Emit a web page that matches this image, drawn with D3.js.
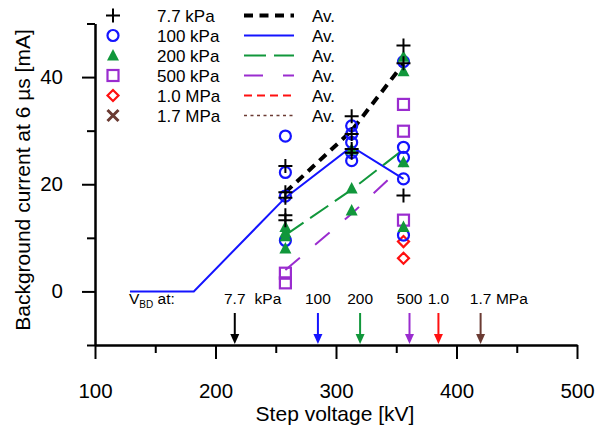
<!DOCTYPE html>
<html>
<head>
<meta charset="utf-8">
<script src="https://cdn.jsdelivr.net/npm/d3@7"></script>
<style>
body { margin: 0; background: #fff; }
text { font-family: "Liberation Sans", Arial, sans-serif; fill: #000; }
</style>
</head>
<body>
<div id="chart"></div>
<script>
// measurement voltages (kV) of the three point columns
var voltages = [258, 313, 356];

var series = ["7.7 kPa", "100 kPa", "200 kPa", "500 kPa", "1.0 MPa", "1.7 MPa"];
var colours = ["#000000", "#1414ff", "#11973b", "#9a2ccf", "#ff1010", "#6b3b33"];
var shapes = ["plus", "circle", "triangle", "square", "diamond", "cross"];

// background current [mA], one list per voltage column
var pts77 = [[23.4, 18.5, 17.5, 14.2, 13.3], [32.7, 29.4, 26.6, 25.9], [45.9, 42.6, 17.9]];
var pts100 = [[29, 22.2, 17.8, 9.5], [30.9, 29.4, 27.8, 25.9, 24.4], [42.9, 26.9, 25, 21, 10.5]];
var pts200 = [[12, 11, 10.3, 8], [26.5, 19.2, 15.1], [43.8, 41.1, 24.1, 12]];
var pts500 = [[3.4, 1.6], [], [34.9, 29.9, 13.3]];
var pts1000 = [[], [], [9.3, 6.2]];
var pts1700 = [[], [], []];

// averages
var avg77 = [18.5, 30, 42.5];
var avg100Volts = [129, 182, 258, 313, 356];
var avg100 = [0, 0, 17.5, 27, 21];
var avg200 = [10.5, 19, 26.5];
var avg500 = [4, 14.5, 23.5];

// breakdown voltages
var vbdVolts = [216, 285, 320, 361, 385, 420];
var vbdLabels = ["7.7", "100", "200", "500", "1.0", "1.7"];
var vbdUnits = ["kPa", "", "", "", "", "MPa"];

var xTicks = [100, 200, 300, 400, 500];
var xMinor = [150, 250, 350, 450];
var yTicks = [0, 20, 40];
var yMinor = [-10, 10, 30, 50];

var dashes = ["9,6.5", null, "22,8", "19,20", "8,5", "3,3.5"];
var widths = [4, 2, 2, 2, 2, 1.5];

var svg = d3.select("#chart").append("svg")
    .attr("width", 595).attr("height", 430);

var x = d3.scaleLinear().domain([100, 500]).range([95, 577]);
var y = d3.scaleLinear().domain([-10, 50]).range([345, 23.5]);

// axes
var gx = svg.append("g").attr("transform", "translate(0," + y(-10) + ")")
    .call(d3.axisBottom(x).tickValues(xTicks).tickSize(14).tickSizeOuter(0).tickPadding(24));
svg.append("g").attr("transform", "translate(0," + y(-10) + ")")
    .call(d3.axisBottom(x).tickValues(xMinor).tickSize(8).tickSizeOuter(0).tickFormat(""));
var gy = svg.append("g").attr("transform", "translate(" + x(100) + ",0)")
    .call(d3.axisLeft(y).tickValues(yTicks).tickSize(13).tickSizeOuter(0).tickPadding(19));
svg.append("g").attr("transform", "translate(" + x(100) + ",0)")
    .call(d3.axisLeft(y).tickValues(yMinor).tickSize(8).tickSizeOuter(0).tickFormat(""));
svg.selectAll(".domain, .tick line").attr("stroke", "#000").attr("stroke-width", 2);
svg.selectAll(".tick text").style("font-size", "20.5px").attr("fill", "#000")
    .style("font-family", "'Liberation Sans', Arial, sans-serif");

svg.append("text").attr("x", 335).attr("y", 421).attr("text-anchor", "middle")
    .style("font-size", "21px").text("Step voltage [kV]");
svg.append("text").attr("transform", "translate(30,180) rotate(-90)").attr("text-anchor", "middle")
    .style("font-size", "21px").text("Background current at 6 \u00b5s [mA]");

// average lines
var line = d3.line().x(function(d) { return x(d[0]); }).y(function(d) { return y(d[1]); });
var avgs = [
  d3.zip(voltages, avg77),
  d3.zip(avg100Volts, avg100),
  d3.zip(voltages, avg200),
  d3.zip(voltages, avg500)
];
avgs.forEach(function(a, i) {
  svg.append("path").datum(a).attr("d", line)
    .attr("fill", "none").attr("stroke", colours[i])
    .attr("stroke-width", widths[i]).attr("stroke-dasharray", dashes[i]);
});

// marker drawing
function marker(g, shape, colour) {
  if (shape == "plus") {
    g.append("path").attr("d", "M-7,0H7M0,-7V7").attr("stroke", colour).attr("stroke-width", 2);
  } else if (shape == "circle") {
    g.append("circle").attr("r", 5.5).attr("fill", "none").attr("stroke", colour).attr("stroke-width", 2.2);
  } else if (shape == "triangle") {
    g.append("path").attr("d", "M0,-6.5L6,5L-6,5Z").attr("fill", colour);
  } else if (shape == "square") {
    g.append("rect").attr("x", -5.5).attr("y", -5.5).attr("width", 11).attr("height", 11)
      .attr("fill", "none").attr("stroke", colour).attr("stroke-width", 2.2);
  } else if (shape == "diamond") {
    g.append("path").attr("d", "M0,-5.5L5.5,0L0,5.5L-5.5,0Z")
      .attr("fill", "none").attr("stroke", colour).attr("stroke-width", 2.2);
  } else {
    g.append("path").attr("d", "M-5.5,-5.5L5.5,5.5M-5.5,5.5L5.5,-5.5").attr("stroke", colour).attr("stroke-width", 3);
  }
}

var allPts = [pts77, pts100, pts200, pts500, pts1000, pts1700];
// drawing order so crosses end up on top
[4, 3, 1, 2, 0, 5].forEach(function(si) {
  allPts[si].forEach(function(col, ci) {
    col.forEach(function(v) {
      var g = svg.append("g").attr("transform", "translate(" + x(voltages[ci]) + "," + y(v) + ")");
      marker(g, shapes[si], colours[si]);
    });
  });
});

// legend
series.forEach(function(s, i) {
  var ly = 15.5 + i * 20;
  marker(svg.append("g").attr("transform", "translate(113," + ly + ")"), shapes[i], colours[i]);
  svg.append("text").attr("x", 157).attr("y", ly + 6).style("font-size", "17px").text(s);
  svg.append("line").attr("x1", 244).attr("x2", 294).attr("y1", ly).attr("y2", ly)
    .attr("stroke", colours[i]).attr("stroke-width", widths[i]).attr("stroke-dasharray", dashes[i]);
  svg.append("text").attr("x", 312).attr("y", ly + 6).style("font-size", "17px").text("Av.");
});

// breakdown voltage arrows
var vb = svg.append("text").attr("x", 129).attr("y", 304).style("font-size", "15.5px");
vb.append("tspan").text("V");
vb.append("tspan").attr("dy", 4).style("font-size", "10px").text("BD");
vb.append("tspan").attr("dy", -4).text(" at:");

vbdVolts.forEach(function(v, i) {
  var ax = x(v), c = colours[i];
  svg.append("line").attr("x1", ax).attr("x2", ax).attr("y1", 313).attr("y2", y(-10) - 8)
    .attr("stroke", c).attr("stroke-width", 2);
  svg.append("path").attr("d", "M" + (ax - 4.5) + "," + (y(-10) - 11) + "L" + (ax + 4.5) + "," + (y(-10) - 11) + "L" + ax + "," + (y(-10) - 1) + "Z")
    .attr("fill", c);
  var t = svg.append("text").attr("x", ax).attr("y", 304).attr("text-anchor", "middle")
    .style("font-size", "15.5px").text(vbdLabels[i]);
  if (vbdUnits[i]) {
    var w = t.node().getComputedTextLength();
    svg.append("text").attr("x", ax + w / 2 + (i == 0 ? 9 : 4.5)).attr("y", 304)
      .style("font-size", "15.5px").text(vbdUnits[i]);
  }
});
</script>
</body>
</html>
